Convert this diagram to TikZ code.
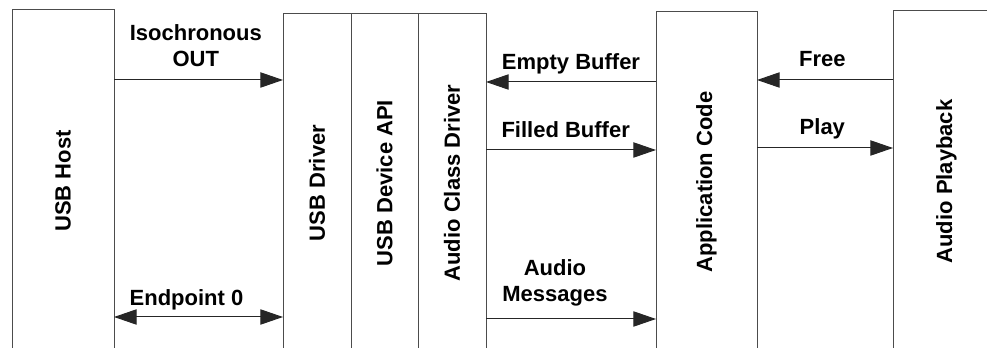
\documentclass[tikz,border=0pt]{standalone}
\usepackage{fontspec}
\setmainfont{Liberation Sans}
\usetikzlibrary{arrows.meta,positioning}

\tikzset{
  layer/.style={draw=black!70, line width=0.75pt, rotate=90, inner sep=0pt, outer sep=0pt,
    font=\bfseries},
  flow/.style={draw=black!85, line width=0.75pt, -{Triangle[length=17pt,width=11.5pt]}},
  both/.style={draw=black!85, line width=0.75pt, {Triangle[length=17pt,width=11.5pt]}-{Triangle[length=17pt,width=11.5pt]}},
  lbl/.style={inner sep=0pt, text depth=0pt, align=center, font=\bfseries}
}

\begin{document}
\fontsize{16.5}{19.5}\selectfont
\begin{tikzpicture}[x=0.75pt, y=-0.75pt]
      \useasboundingbox (0,0) rectangle (987,348);
      \clip (0,0) rectangle (987,348);
      % layers (rotated, so width is along the text)
      \node[layer, minimum width=256.5pt, minimum height=76.5pt] (host) at (63,181) {USB Host};
      \node[layer, minimum width=253.5pt, minimum height=51pt] (usbdrv) at (317,183) {USB Driver};
      \node[layer, minimum width=253.5pt, minimum height=50.25pt] (devapi) at (384.5,183) {USB Device API};
      \node[layer, minimum width=253.5pt, minimum height=51pt] (acd) at (452,183) {Audio Class Driver};
      \node[layer, minimum width=255pt, minimum height=75.75pt] (app) at (706.5,182) {Application Code};
      \node[layer, minimum width=255.75pt, minimum height=80.25pt] (play) at (946.5,181.5) {Audio Playback};
      % rows of the arrows
      \coordinate (rowA) at (0,80);
      \coordinate (rowB) at (0,82);
      \coordinate (rowC) at (0,150);
      \coordinate (rowD) at (0,148);
      \coordinate (rowE) at (0,317);
      \coordinate (rowF) at (0,319);
      % messages
      \draw[flow] (host.south |- rowA) -- node[lbl, above=9.75pt, xshift=-2pt] {Isochronous\\OUT} (usbdrv.north |- rowA);
      \draw[both] (host.south |- rowE) -- node[lbl, above=8.25pt, xshift=-9pt] {Endpoint 0} (usbdrv.north |- rowE);
      \draw[flow] (app.north |- rowB) -- node[lbl, above=9pt] {Empty Buffer} (acd.south |- rowB);
      \draw[flow] (acd.south |- rowC) -- node[lbl, above=9pt, xshift=-4pt] {Filled Buffer} (app.north |- rowC);
      \draw[flow] (acd.south |- rowF) -- node[lbl, above=12.75pt, xshift=-12pt] {Audio\\Messages} (app.north |- rowF);
      \draw[flow] (play.north |- rowA) -- node[lbl, above=9.75pt, xshift=-2pt] {Free} (app.south |- rowA);
      \draw[flow] (app.south |- rowD) -- node[lbl, above=9.75pt, xshift=-2pt] {Play} (play.north |- rowD);
\end{tikzpicture}
\end{document}
